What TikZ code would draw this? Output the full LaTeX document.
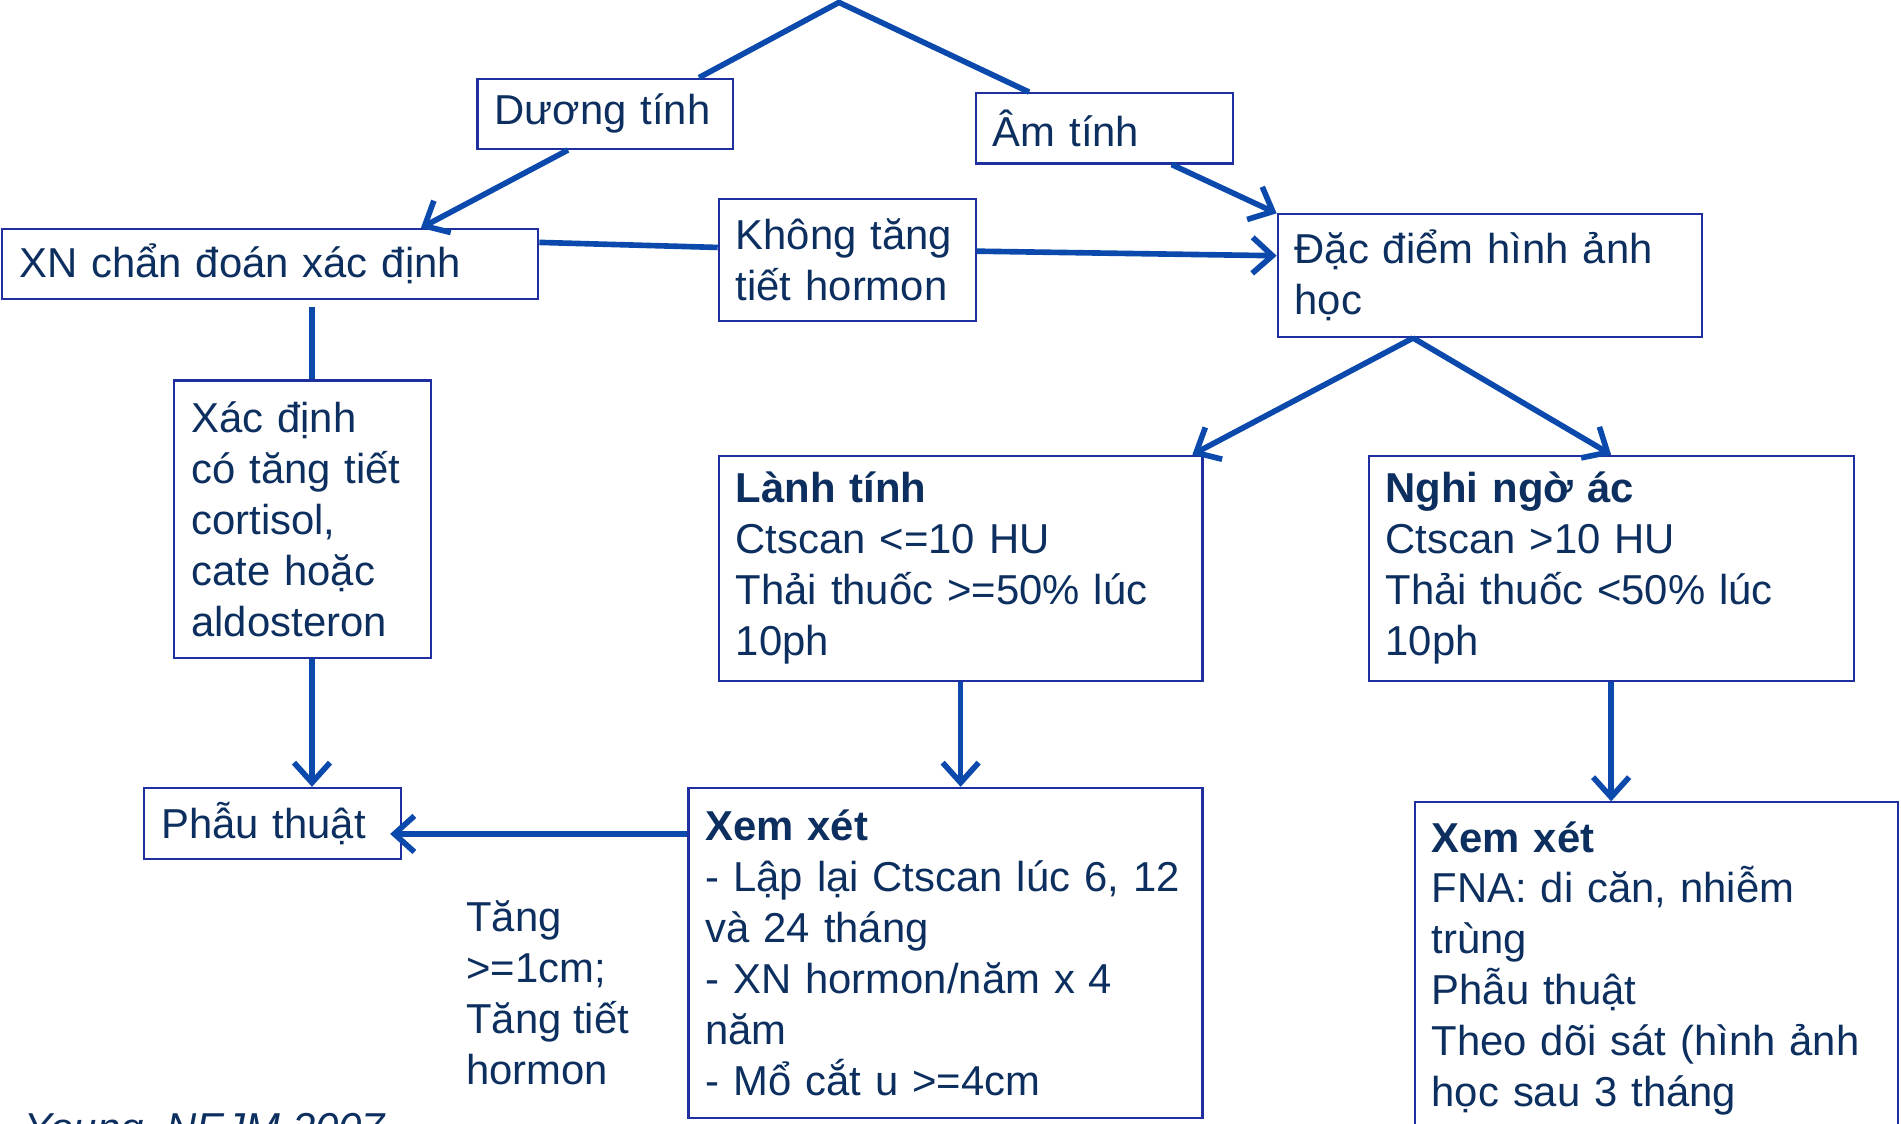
\documentclass[tikz,border=0pt]{standalone}
\usepackage{fontspec}
\setmainfont{Liberation Sans}
\usepackage{tikz}
\usetikzlibrary{arrows.meta,positioning,calc}
\definecolor{txtblue}{HTML}{0C2F5F}
\definecolor{lineblue}{HTML}{0B49AC}
\definecolor{boxblue}{HTML}{1F2F9F}

\begin{document}
\begin{tikzpicture}[
  x=0.12124mm, y=-0.12124mm,
  box/.style={draw=boxblue, line width=0.6pt, fill=white, anchor=north west, align=left, inner xsep=1.7mm, inner ysep=0pt, font=\fontsize{11.9}{14.5}\selectfont, text=txtblue},
  note/.style={align=left, inner sep=0pt, font=\fontsize{11.9}{14.5}\selectfont, text=txtblue},
  link/.style={draw=lineblue, line width=1.6pt},
  arrow/.style={link, -{Straight Barb[length=2mm, width=3.6mm, line width=1.6pt]}}
]
  \useasboundingbox (0,0) rectangle (1568,927);

  % boxes
  \node[box, text width=22.18mm, minimum height=7.03mm] (duong) at (393,64) {Dương tính};
  \node[box, text width=22.3mm, minimum height=7.03mm] (am) at (804,76) {Âm tính};
  \node[box, text width=50.2mm, minimum height=7.03mm] (xn) at (1,188) {XN chẩn đoán xác định};
  \node[box, text width=22.3mm, minimum height=12.25mm] (khong) at (592,163) {Không tăng\\tiết hormon};
  \node[box, text width=39.03mm, minimum height=12.25mm] (dacdiem) at (1053,176) {Đặc điểm hình ảnh\\học};
  \node[box, text width=22.3mm, minimum height=27.76mm] (xacdinh) at (143,313) {Xác định\\có tăng tiết\\cortisol,\\cate hoặc\\aldosteron};
  \node[box, text width=44.97mm, minimum height=22.55mm] (lanh) at (592,375) {\textbf{Lành tính}\\Ctscan <=10 HU\\Thải thuốc >=50\% lúc\\10ph};
  \node[box, text width=45.1mm, minimum height=22.55mm] (nghi) at (1128,375) {\textbf{Nghi ngờ ác}\\Ctscan >10 HU\\Thải thuốc <50\% lúc\\10ph};
  \node[box, text width=22.3mm, minimum height=7.15mm] (phau) at (118,649) {Phẫu thuật};
  \node[box, text width=48.0mm, minimum height=32.98mm] (xem1) at (567,649) {\textbf{Xem xét}\\- Lập lại Ctscan lúc 6, 12\\và 24 tháng\\- XN hormon/năm x 4\\năm\\- Mổ cắt u >=4cm};
  \node[box, text width=44.97mm, minimum height=33.2mm] (xem2) at (1166,661) {\textbf{Xem xét}\\FNA: di căn, nhiễm\\trùng\\Phẫu thuật\\Theo dõi sát (hình ảnh\\học sau 3 tháng};

  % free texts
  \node[note, anchor=west] (tang) at (384,819) {Tăng\\>=1cm;\\Tăng tiết\\hormon};
  \node[note, font=\fontsize{11.9}{14.5}\selectfont\itshape, anchor=base west] (src) at (20,942) {Young, NEJM 2007};

  % connectors
  \coordinate (top) at (692,2);
  \draw[link] ($(duong.north west)!0.863!(duong.north east)$) -- (top) -- ($(am.north west)!0.21!(am.north east)$);
  \draw[arrow] ($(duong.south west)!0.355!(duong.south east)$) -- ($(xn.north west)!0.78!(xn.north east)$);
  \draw[arrow] ($(am.south west)!0.76!(am.south east)$) -- (dacdiem.north west);
  \draw[link] ($(xn.north east)!0.2!(xn.south east)$) -- ($(khong.north west)!0.4!(khong.south west)$);
  \draw[arrow] ($(khong.north east)!0.43!(khong.south east)$) -- ($(dacdiem.north west)!0.34!(dacdiem.south west)$);

  \coordinate (xdtop) at ($(xacdinh.north west)!0.535!(xacdinh.north east)$);
  \draw[link, shorten <=0.7mm] (xn.south -| xdtop) -- (xdtop);
  \draw[arrow] (xacdinh.south -| xdtop) -- (phau.north -| xdtop);

  \coordinate (ddbot) at ($(dacdiem.south west)!0.32!(dacdiem.south east)$);
  \draw[arrow] (ddbot) -- ($(lanh.north west)!0.977!(lanh.north east)$);
  \draw[arrow] (ddbot) -- (nghi.north);

  \draw[arrow] (lanh.south) -- (lanh.south |- xem1.north);
  \draw[arrow] (nghi.south) -- (nghi.south |- xem2.north);

  \coordinate (phin) at ($(phau.north east)!0.64!(phau.south east)$);
  \draw[arrow, shorten >=-1.2mm] (xem1.west |- phin) -- (phin);
\end{tikzpicture}
\end{document}
